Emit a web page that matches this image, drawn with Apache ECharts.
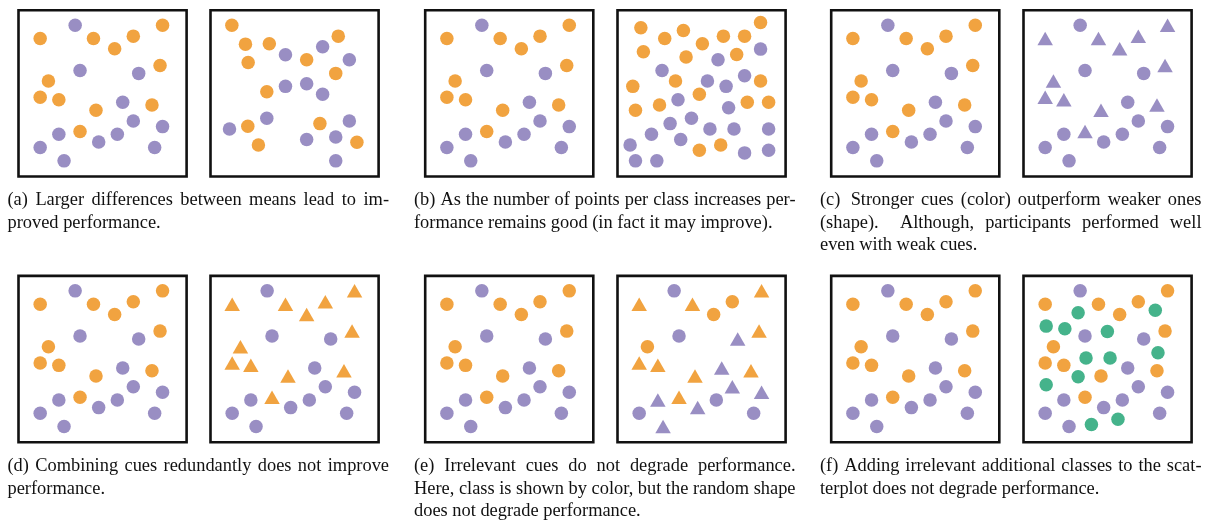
<!DOCTYPE html>
<html><head><meta charset="utf-8">
<script src="https://cdn.jsdelivr.net/npm/echarts@6/dist/echarts.min.js"></script>
<style>html,body{margin:0;padding:0;background:#fff;} #c{width:1206px;height:522px;}</style>
</head><body><div id="c"></div>
<script>
// ---------- DATA (x, y in 0..100 panel units) ----------
const baseOrange = [[12.9,83],[44.6,83],[57.2,76.8],[68.3,84.4],[85.7,91],[84.2,66.8],[17.8,57.4],[12.9,47.6],[24,46.2],[46.1,39.8],[79.4,43],[36.6,27]];
const basePurple = [[33.7,91],[36.6,63.8],[71.5,62],[62,44.6],[68.3,33.4],[85.7,30],[24,25.4],[58.8,25.4],[47.7,20.8],[12.9,17.4],[81,17.4],[27.1,9.4]];

const aRightOrange = [[12.7,91],[20.8,79.6],[35,79.8],[22.4,68.6],[57.2,70.2],[76,84.4],[74.5,62],[33.5,51],[22.2,30.2],[28.5,19],[65.1,31.8],[87.1,20.6]];
const aRightPurple = [[44.6,73.2],[66.7,78],[82.6,70.2],[44.6,54.2],[57.2,55.8],[66.7,49.4],[33.5,35],[11.3,28.6],[57.2,22.2],[74.5,23.8],[82.6,33.4],[74.5,9.4]];

const bRightOrange = [[13.9,89.4],[28.1,83],[39.2,87.8],[50.5,79.8],[63,84.4],[75.6,84.4],[85.1,92.6],[15.4,75],[40.8,71.8],[70.9,73.4],[34.5,57.4],[9.1,54.2],[85.1,57.4],[48.7,49.4],[25,43],[10.7,39.8],[77.2,44.6],[89.9,44.6],[48.7,15.8],[61.4,19]];
const bRightPurple = [[85.1,76.6],[59.8,70.2],[26.5,63.8],[53.5,57.4],[64.6,54.2],[75.6,60.6],[36,46.2],[66.1,41.4],[44,35],[31.3,31.8],[55,28.6],[69.3,28.6],[89.9,28.6],[20.2,25.4],[37.6,22.2],[7.5,19],[10.7,9.4],[23.4,9.4],[75.6,14.2],[89.9,15.8]];

// (e) right: colour = class, shape random
const eOrangeTriangles = [[12.9,83],[44.6,83],[85.7,91],[84.2,66.8],[12.9,47.6],[24,46.2],[46.1,39.8],[79.4,43],[36.6,27]];
const eOrangeCircles = [[57.2,76.8],[68.3,84.4],[17.8,57.4]];
const ePurpleCircles = [[33.7,91],[36.6,63.8],[58.8,25.4],[12.9,17.4],[81,17.4]];
const ePurpleTriangles = [[71.5,62],[62,44.6],[68.3,33.4],[85.7,30],[24,25.4],[47.7,20.8],[27.1,9.4]];

// (f) right: extra irrelevant class
const fGreen = [[32.5,77.8],[13.5,69.8],[24.6,68.2],[49.9,66.6],[78.4,79.4],[80,53.8],[37.2,50.6],[51.5,50.6],[32.5,39.4],[13.5,34.6],[40.4,10.6],[56.2,13.8]];

// captions: [text, justified]
const captionA = [["(a) Larger differences between means lead to im-", true], ["proved performance.", false]];
const captionB = [["(b) As the number of points per class increases per-", true], ["formance remains good (in fact it may improve).", false]];
const captionC = [["(c)  Stronger cues (color) outperform weaker ones", true], ["(shape).   Although, participants performed well", true], ["even with weak cues.", false]];
const captionD = [["(d) Combining cues redundantly does not improve", true], ["performance.", false]];
const captionE = [["(e) Irrelevant cues do not degrade performance.", true], ["Here, class is shown by color, but the random shape", true], ["does not degrade performance.", false]];
const captionF = [["(f) Adding irrelevant additional classes to the scat-", true], ["terplot does not degrade performance.", false]];

// ---------- STYLE / LAYOUT ----------
const ORANGE = '#F1A340', PURPLE = '#998EC3', GREEN = '#45B38B';
const CIRCLE = 13.5, TRI = [15.5, 13.5];
const boxLefts = [17.3, 209.3, 424, 616.3, 830, 1022.3];
const boxTops = [9, 274.7];
const boxW = 170.5, boxH = 168.7;
const colLefts = [7.5, 414, 820];
const colW = 381.5;
const baselines = [[205.3, 228.3, 250.8], [471.8, 494.6, 516.8]];
const FONT_SIZE = 18.4;
const FONT_FAMILY = '"Liberation Serif", "Times New Roman", serif';

const C = (d, color) => ({data: d, color, symbol: 'circle', size: CIRCLE});
const T = (d, color) => ({data: d, color, symbol: 'triangle', size: TRI});

const panels = [
  [C(baseOrange, ORANGE), C(basePurple, PURPLE)],
  [C(aRightOrange, ORANGE), C(aRightPurple, PURPLE)],
  [C(baseOrange, ORANGE), C(basePurple, PURPLE)],
  [C(bRightOrange, ORANGE), C(bRightPurple, PURPLE)],
  [C(baseOrange, ORANGE), C(basePurple, PURPLE)],
  [T(baseOrange, PURPLE), C(basePurple, PURPLE)],
  [C(baseOrange, ORANGE), C(basePurple, PURPLE)],
  [T(baseOrange, ORANGE), C(basePurple, PURPLE)],
  [C(baseOrange, ORANGE), C(basePurple, PURPLE)],
  [T(eOrangeTriangles, ORANGE), C(eOrangeCircles, ORANGE), C(ePurpleCircles, PURPLE), T(ePurpleTriangles, PURPLE)],
  [C(baseOrange, ORANGE), C(basePurple, PURPLE)],
  [C(baseOrange, ORANGE), C(fGreen, GREEN), C(basePurple, PURPLE)]
];

const grids = [], xAxes = [], yAxes = [], series = [];
panels.forEach((p, i) => {
  const row = Math.floor(i / 6), col = i % 6;
  const L = boxLefts[col], Tp = boxTops[row];
  grids.push({left: L + 1.2, top: Tp + 1.2, width: boxW - 2.4, height: boxH - 2.4,
    show: true, borderColor: '#111', borderWidth: 2.6, backgroundColor: '#fff', containLabel: false});
  xAxes.push({gridIndex: i, type: 'value', min: 0, max: 100, show: false});
  yAxes.push({gridIndex: i, type: 'value', min: 0, max: 100, show: false});
  p.forEach(s => series.push({type: 'scatter', xAxisIndex: i, yAxisIndex: i, data: s.data,
    symbol: s.symbol, symbolSize: s.size, itemStyle: {color: s.color, opacity: 1}, silent: true, animation: false}));
});

// captions -> graphic text (justified lines laid out word by word;
// runs of several spaces get a wider, TeX-like stretch)
const font = FONT_SIZE + 'px ' + FONT_FAMILY;
const ctx = document.createElement('canvas').getContext('2d');
ctx.font = font;
const graphics = [];
const captions = [captionA, captionB, captionC, captionD, captionE, captionF];
captions.forEach((cap, ci) => {
  const row = Math.floor(ci / 3), col = ci % 3;
  const x0 = colLefts[col];
  cap.forEach(([text, just], li) => {
    const y = baselines[row][li] - 0.3 * FONT_SIZE;
    if (!just) {
      graphics.push({type: 'text', x: x0, y, silent: true,
        style: {text, font, fill: '#111', verticalAlign: 'middle', align: 'left'}});
      return;
    }
    const parts = text.split(/( +)/);
    const words = [], weights = [];
    parts.forEach((p, k) => {
      if (k % 2 === 0) words.push(p);
      else weights.push(1 + 0.45 * (p.length - 1));
    });
    const widths = words.map(w => ctx.measureText(w).width);
    const total = widths.reduce((a, b) => a + b, 0);
    const wsum = weights.reduce((a, b) => a + b, 0);
    const unit = (colW - total) / wsum;
    let x = x0;
    words.forEach((w, wi) => {
      graphics.push({type: 'text', x, y, silent: true,
        style: {text: w, font, fill: '#111', verticalAlign: 'middle', align: 'left'}});
      if (wi < weights.length) x += widths[wi] + unit * weights[wi];
    });
  });
});

const chart = echarts.init(document.getElementById('c'), null, {renderer: 'canvas'});
chart.setOption({
  animation: false,
  backgroundColor: '#fff',
  grid: grids, xAxis: xAxes, yAxis: yAxes, series,
  graphic: graphics
});
</script></body></html>
